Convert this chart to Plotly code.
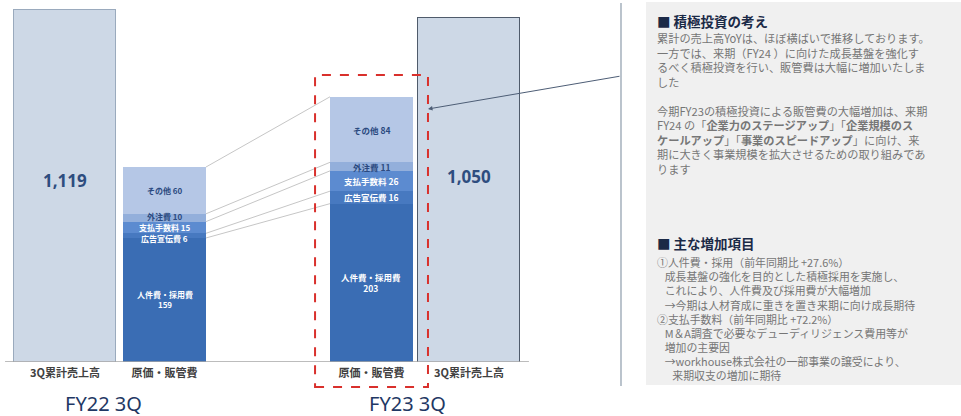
import math
import plotly.graph_objects as go

W, H = 961, 416

# ---- data -------------------------------------------------------------
periods = ["FY22 3Q", "FY23 3Q"]
bar_labels = ["3Q累計売上高", "原価・販管費", "原価・販管費", "3Q累計売上高"]
revenue = [1119, 1050]                       # 3Q cumulative sales (FY22, FY23)
cost_items = ["人件費・採用費", "広告宣伝費", "支払手数料", "外注費", "その他"]
cost_fy22 = [159, 6, 15, 10, 60]
cost_fy23 = [203, 16, 26, 11, 84]

# ---- styling ----------------------------------------------------------
cost_colors = ["#3a6db4", "#4779c0", "#5c8bd0", "#93afdb", "#b5c7e6"]
cost_text_colors = ["white", "white", "white", "#2b4a80", "#2b4a80"]
label_nudge = [0, 2.5, 0, -1.5, 0]          # px, spreads the crowded thin-segment labels
rev_fill = "#cdd8e6"
rev_edge = ["#9aaabd", "#4f5b6b"]
JP = "Noto Sans CJK JP"

# slot positions on the x axis (revenue, cost | cost, revenue)
BAR_X = [0.0, 1.0, 3.08, 4.06]
REV_W, COST_W = 1.025, 0.834
X_RANGE = [-0.6533, 9.005]


def py(p):
    """pixel row -> paper y"""
    return 1 - p / H


def px(p):
    """pixel column -> paper x"""
    return p / W


fig = go.Figure()

# stacked cost bars
for item, v22, v23, col in zip(cost_items, cost_fy22, cost_fy23, cost_colors):
    fig.add_trace(go.Bar(
        x=[BAR_X[1], BAR_X[2]], y=[v22, v23], width=COST_W,
        marker=dict(color=col, line=dict(width=0)),
        name=item, xaxis="x", yaxis="y", hoverinfo="skip",
    ))

# revenue bars on a broken (log) scale so both fit the panel
fig.add_trace(go.Bar(
    x=[BAR_X[0], BAR_X[3]], y=revenue, width=REV_W,
    marker=dict(color=rev_fill, line=dict(color=rev_edge, width=1.2)),
    name="3Q累計売上高", xaxis="x", yaxis="y2", hoverinfo="skip",
))

annotations = []
shapes = []

# value labels inside the revenue bars
for xpos, v, yp in zip([BAR_X[0], BAR_X[3]], revenue, [180, 176]):
    annotations.append(dict(
        x=xpos, xref="x", y=py(yp), yref="paper", yanchor="middle",
        text=f"<b>{v:,}</b>", showarrow=False,
        font=dict(family="Noto Sans", size=17, color="#2e4d7f"),
    ))

# segment labels + connectors between the two cost stacks
cum22 = cum23 = 0
for i, item in enumerate(cost_items):
    for xpos, val, base, crowded in ((BAR_X[1], cost_fy22[i], cum22, True),
                                     (BAR_X[2], cost_fy23[i], cum23, False)):
        sep = "<br>" if i == 0 else " "
        annotations.append(dict(
            x=xpos, xref="x", y=base + val / 2, yref="y", yanchor="middle",
            yshift=-label_nudge[i] if crowded else 0,
            text=f"<b>{item}{sep}{val}</b>", showarrow=False,
            font=dict(family=JP, size=8 if crowded else 8.5,
                      color=cost_text_colors[i]),
        ))
    cum22 += cost_fy22[i]
    cum23 += cost_fy23[i]
    shapes.append(dict(
        type="line", xref="x", yref="y",
        x0=BAR_X[1] + COST_W / 2, y0=cum22, x1=BAR_X[2] - COST_W / 2, y1=cum23,
        line=dict(color="#c6c6c6", width=1),
    ))

# connector between the two revenue bars
shapes.append(dict(
    type="line", xref="x", yref="y2",
    x0=BAR_X[0] + REV_W / 2, y0=math.log10(revenue[0]),
    x1=BAR_X[3] - REV_W / 2, y1=math.log10(revenue[1]),
    line=dict(color="#b4b4b4", width=1),
))

# baseline
shapes.append(dict(
    type="line", xref="x", yref="y",
    x0=BAR_X[0] - REV_W / 2 - 0.09, x1=BAR_X[3] + REV_W / 2 + 0.09, y0=0, y1=0,
    line=dict(color="#a6a6a6", width=1.5),
))

# highlight around FY23 cost stack
shapes.append(dict(
    type="rect", xref="x", yref="paper",
    x0=2.513, x1=3.648, y0=py(387), y1=py(75),
    line=dict(color="#d9302c", width=2, dash="dash"),
))

# separator and commentary panel
shapes.append(dict(
    type="line", xref="paper", yref="paper",
    x0=px(621), x1=px(621), y0=py(3), y1=py(386),
    line=dict(color="#8d9cab", width=1.2),
))
shapes.append(dict(
    type="rect", xref="paper", yref="paper", layer="below",
    x0=px(646), x1=1.0, y0=py(385), y1=py(2),
    fillcolor="#f0f0f0", line=dict(width=0),
))

# arrow from the panel to the highlighted stack
annotations.append(dict(
    x=px(428), y=py(109), xref="paper", yref="paper",
    ax=621 - 428, ay=76 - 109, axref="pixel", ayref="pixel",
    text="", showarrow=True, arrowhead=2, arrowsize=0.9, arrowwidth=1,
    arrowcolor="#4d5d75",
))

# period labels
for txt, xp in zip(periods, [103, 407]):
    annotations.append(dict(
        x=px(xp), y=py(403), xref="paper", yref="paper", text=txt,
        xanchor="center", yanchor="middle", showarrow=False,
        font=dict(family="Noto Sans", size=20, color="#1f3864"),
    ))

# ---- commentary text --------------------------------------------------
sec1_title = "■ 積極投資の考え"
sec1_lines = [
    "累計の売上高YoYは、ほぼ横ばいで推移しております。",
    "一方では、来期（FY24 ）に向けた成長基盤を強化す",
    "るべく積極投資を行い、販管費は大幅に増加いたしま",
    "した",
    "",
    "今期FY23の積極投資による販管費の大幅増加は、来期",
    "FY24 の「<b>企業力のステージアップ</b>」「<b>企業規模のス</b>",
    "<b>ケールアップ</b>」「<b>事業のスピードアップ</b>」に向け、来",
    "期に大きく事業規模を拡大させるための取り組みであ",
    "ります",
]
sec2_title = "■ 主な増加項目"
sec2_lines = [
    (0, "①人件費・採用（前年同期比 +27.6%）"),
    (1, "成長基盤の強化を目的とした積極採用を実施し、"),
    (1, "これにより、人件費及び採用費が大幅増加"),
    (1, "→今期は人材育成に重きを置き来期に向け成長期待"),
    (0, "②支払手数料（前年同期比 +72.2%）"),
    (1, "M＆A調査で必要なデューディリジェンス費用等が"),
    (1, "増加の主要因"),
    (1, "→workhouse株式会社の一部事業の譲受により、"),
    (2, "来期収支の増加に期待"),
]

TX = 657
INDENT = "\u2002\u2009"   # ~0.7em hanging indent for sub lines
title_font = dict(family=JP, size=13.5, color="#1b2a47")


def text_block(x_pix, y_top_pix, txt, font):
    annotations.append(dict(
        x=px(x_pix), y=py(y_top_pix), xref="paper", yref="paper",
        xanchor="left", yanchor="top", align="left", text=txt,
        showarrow=False, font=font, borderpad=0,
    ))


text_block(TX - 1, 10, f"<b>{sec1_title}</b>", title_font)
text_block(TX - 1, 28.5, "<br>".join(sec1_lines),
           dict(family=JP, size=11.2, color="#767676"))

text_block(TX - 1, 232.5, f"<b>{sec2_title}</b>", title_font)
text_block(TX - 1, 253, "<br>".join(INDENT * lvl + s for lvl, s in sec2_lines),
           dict(family=JP, size=10.9, color="#767676"))

fig.update_layout(
    width=W, height=H, margin=dict(l=0, r=0, t=0, b=0),
    paper_bgcolor="white", plot_bgcolor="rgba(0,0,0,0)",
    barmode="stack", bargap=0, showlegend=False,
    xaxis=dict(
        domain=[0, 1], range=X_RANGE, tickmode="array",
        tickvals=BAR_X, ticktext=[f"<b>{t}</b>" for t in bar_labels],
        tickfont=dict(family=JP, size=11, color="#404040"),
        showgrid=False, zeroline=False, showline=False, ticks="",
        ticklabelstandoff=3, fixedrange=True,
    ),
    yaxis=dict(
        domain=[py(362), 1], range=[0, 464.1], visible=False, fixedrange=True,
    ),
    yaxis2=dict(
        domain=[py(362), py(8)], type="log", range=[1.8326, 3.0557],
        anchor="x", visible=False, fixedrange=True,
    ),
    shapes=shapes,
    annotations=annotations,
)

fig.write_html("out.html")
